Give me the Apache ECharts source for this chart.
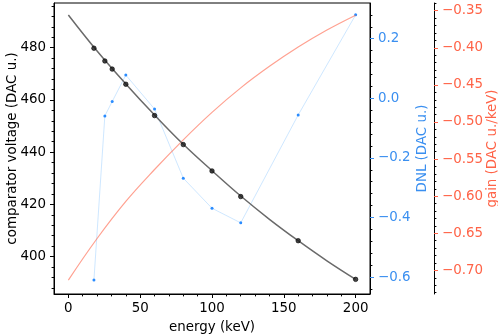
<!DOCTYPE html>
<html>
<head>
<meta charset="utf-8">
<script src="https://cdn.jsdelivr.net/npm/echarts@6/dist/echarts.min.js"></script>
<style>
  html, body { margin: 0; padding: 0; background: #fff; }
  #main { width: 498px; height: 336px; }
</style>
</head>
<body>
<div id="main"></div>
<script>
// measured calibration points
var energy = [17.8, 25.4, 30.5, 40, 60, 80, 100, 120, 160, 200];
var voltage = [479.8, 474.9, 471.8, 466.0, 454.0, 442.9, 432.8, 423.0, 406.1, 391.3];
var dnl = [-0.61, -0.059, -0.011, 0.078, -0.036, -0.268, -0.369, -0.418, -0.056, 0.28];

// fit curve and its gain
var fitEnergy = [0, 20, 40, 60, 80, 100, 120, 140, 160, 180, 200];
var fitVoltage = [492.5, 478.7, 466.1, 454.2, 443.0, 432.9, 423.2, 414.3, 406.1, 398.4, 391.3];
var gain = [-0.713, -0.657, -0.607, -0.564, -0.524, -0.487, -0.454, -0.425, -0.399, -0.376, -0.356];

// tick labels
var xTicks = [0, 50, 100, 150, 200];
var voltTicks = [400, 420, 440, 460, 480];
var dnlTicks = [-0.6, -0.4, -0.2, 0, 0.2];
var gainTicks = [-0.70, -0.65, -0.60, -0.55, -0.50, -0.45, -0.40, -0.35];

var FONT = 'DejaVu Sans';
var FS = 13.4;
var RED = '#ff6347';
var BLUE = '#3a8ff0';

function minors(from, to, step, majors) {
    var out = [];
    for (var v = from; v <= to + step / 2; v += step) {
        var r = Math.round(v / step) * step;
        r = Math.round(r * 1000) / 1000;
        var isMajor = majors.some(function (m) { return Math.abs(m - r) < step / 10; });
        if (!isMajor) out.push(r);
    }
    return out;
}

function minus(s) { return s.replace('-', '\u2212'); }

function pair(xs, ys) {
    return xs.map(function (x, i) { return [x, ys[i]]; });
}

var X_MIN = -10, X_MAX = 210;
var V_MIN = 385.7, V_MAX = 497.1;
var D_MIN = -0.6567, D_MAX = 0.3198;
var G_MIN = -0.7318, G_MAX = -0.3396;

function majorAxis(extra) {
    var base = {
        type: 'value',
        splitLine: { show: false },
        axisLine: { show: true, onZero: false, lineStyle: { color: '#000', width: 1 } },
        axisTick: { show: true, length: 4, lineStyle: { color: '#000', width: 1 } },
        axisLabel: { fontFamily: FONT, fontSize: FS, color: '#000', margin: 8 },
        nameTextStyle: { fontFamily: FONT, fontSize: FS, color: '#000' },
        nameLocation: 'middle',
        nameMoveOverlap: false
    };
    return Object.assign(base, extra);
}

function minorAxis(extra, values) {
    return Object.assign({
        type: 'value',
        splitLine: { show: false },
        axisLine: { show: false, onZero: false },
        axisLabel: { show: false },
        axisTick: { show: true, length: 2.4, customValues: values, lineStyle: { color: '#000', width: 1 } }
    }, extra);
}

var myChart = echarts.init(document.getElementById('main'), null, { renderer: 'canvas' });
myChart.setOption({
    animation: false,
    backgroundColor: '#fff',
    grid: {
        left: 54, right: 128, top: 3, bottom: 42,
        containLabel: false, outerBoundsMode: 'none',
        show: true, borderColor: '#000', borderWidth: 1, backgroundColor: 'transparent'
    },
    xAxis: [
        majorAxis({
            position: 'bottom', min: X_MIN, max: X_MAX,
            name: 'energy (keV)', nameGap: 27,
            axisTick: { show: true, length: 4, customValues: xTicks, lineStyle: { color: '#000' } },
            axisLabel: { fontFamily: FONT, fontSize: FS, color: '#000', margin: 8, customValues: xTicks }
        }),
        minorAxis({ position: 'bottom', offset: 0, min: X_MIN, max: X_MAX }, minors(10, 190, 10, xTicks))
    ],
    yAxis: [
        majorAxis({
            position: 'left', min: V_MIN, max: V_MAX,
            name: 'comparator voltage (DAC u.)', nameGap: 35, nameRotate: 90,
            axisTick: { show: true, length: 4, customValues: voltTicks, lineStyle: { color: '#000' } },
            axisLabel: { fontFamily: FONT, fontSize: FS, color: '#000', margin: 8, customValues: voltTicks }
        }),
        minorAxis({ position: 'left', offset: 0, min: V_MIN, max: V_MAX }, minors(388, 496, 4, voltTicks)),
        majorAxis({
            position: 'right', offset: 0, min: D_MIN, max: D_MAX,
            name: 'DNL (DAC u.)', nameGap: 46, nameRotate: 90,
            nameTextStyle: { fontFamily: FONT, fontSize: FS, color: BLUE },
            axisTick: { show: true, length: 4, customValues: dnlTicks, lineStyle: { color: BLUE } },
            axisLabel: {
                fontFamily: FONT, fontSize: FS, color: BLUE, margin: 8, customValues: dnlTicks,
                formatter: function (v) { return minus(v.toFixed(1)); }
            }
        }),
        minorAxis({ position: 'right', offset: 0, min: D_MIN, max: D_MAX }, minors(-0.64, 0.32, 0.04, dnlTicks)),
        majorAxis({
            position: 'right', offset: 64, min: G_MIN, max: G_MAX,
            name: 'gain (DAC u./keV)', nameGap: 52, nameRotate: 90,
            nameTextStyle: { fontFamily: FONT, fontSize: FS, color: RED },
            axisTick: { show: true, length: 4, customValues: gainTicks, lineStyle: { color: RED } },
            axisLabel: {
                fontFamily: FONT, fontSize: FS, color: RED, margin: 8, customValues: gainTicks,
                formatter: function (v) { return minus(v.toFixed(2)); }
            }
        }),
        minorAxis({ position: 'right', offset: 64, min: G_MIN, max: G_MAX }, minors(-0.73, -0.34, 0.01, gainTicks))
    ],
    series: [
        {
            name: 'DNL', type: 'line', xAxisIndex: 0, yAxisIndex: 2,
            data: pair(energy, dnl),
            symbol: 'circle', symbolSize: 3, showSymbol: true,
            lineStyle: { color: 'rgba(30,144,255,0.22)', width: 1 },
            itemStyle: { color: '#2a8cff', borderWidth: 0 },
            z: 2
        },
        {
            name: 'gain', type: 'line', xAxisIndex: 0, yAxisIndex: 4,
            data: pair(fitEnergy, gain),
            smooth: 0.4, symbol: 'none',
            lineStyle: { color: 'rgba(255,99,71,0.6)', width: 1.2 },
            z: 3
        },
        {
            name: 'fit', type: 'line', xAxisIndex: 0, yAxisIndex: 0,
            data: pair(fitEnergy, fitVoltage),
            smooth: 0.4, symbol: 'none',
            lineStyle: { color: '#6a6a6a', width: 1.5 },
            z: 4
        },
        {
            name: 'voltage', type: 'scatter', xAxisIndex: 0, yAxisIndex: 0,
            data: pair(energy, voltage),
            symbol: 'circle', symbolSize: 4.5,
            itemStyle: { color: '#1a1a1a', borderColor: '#000', borderWidth: 0.8 },
            z: 5
        }
    ]
});
</script>
</body>
</html>
